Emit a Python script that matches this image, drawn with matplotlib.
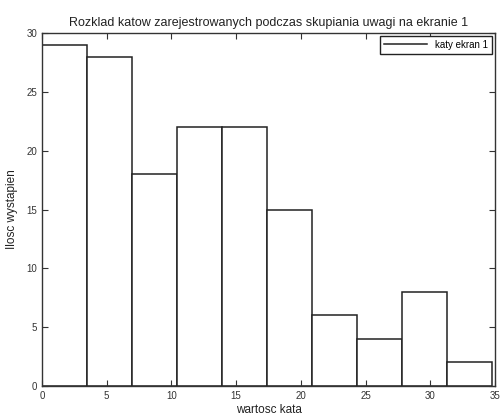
import matplotlib
matplotlib.use("Agg")
import matplotlib.pyplot as plt
import numpy as np

# histogram data
bin_edges = [0, 3.475, 6.95, 10.425, 13.9, 17.375, 20.85, 24.325, 27.8, 31.275, 34.75]
counts = [29, 28, 18, 22, 22, 15, 6, 4, 8, 2]
x_ticks = [0, 5, 10, 15, 20, 25, 30, 35]
y_ticks = [0, 5, 10, 15, 20, 25, 30]

plt.rcParams['font.family'] = ['Liberation Sans', 'DejaVu Sans']

fig = plt.figure(figsize=(5.03, 4.18), dpi=100)
ax = fig.add_axes([0.0835, 0.0766, 0.9005, 0.8444])

edges = np.array(bin_edges)
ax.bar(edges[:-1], counts, width=np.diff(edges), align='edge',
       facecolor='white', edgecolor='#222222', linewidth=1.1)

# legend uses a line sample like matlab
ax.plot([], [], color='#222222', linewidth=1.1, label='katy ekran 1')
leg = ax.legend(loc='upper right', fontsize=7, fancybox=False, edgecolor='#222222',
                framealpha=1, handlelength=4.5, borderaxespad=0.3)
leg.get_frame().set_linewidth(1.0)

ax.set_xlim(0, 35)
ax.set_ylim(0, 30)
ax.set_xticks(x_ticks)
ax.set_yticks(y_ticks)
ax.tick_params(direction='in', top=True, right=True, labelsize=7, length=4,
               colors='#333333', labelcolor='#333333')
for s in ax.spines.values():
    s.set_color('#333333')
    s.set_linewidth(1.0)

ax.set_title('Rozklad katow zarejestrowanych podczas skupiania uwagi na ekranie 1',
             fontsize=9, color='#222222', pad=5)
ax.set_xlabel('wartosc kata', fontsize=8.5, color='#222222', labelpad=2)
ax.set_ylabel('Ilosc wystapien', fontsize=8.5, color='#222222', labelpad=6)

fig.savefig('out.png', dpi=100)
